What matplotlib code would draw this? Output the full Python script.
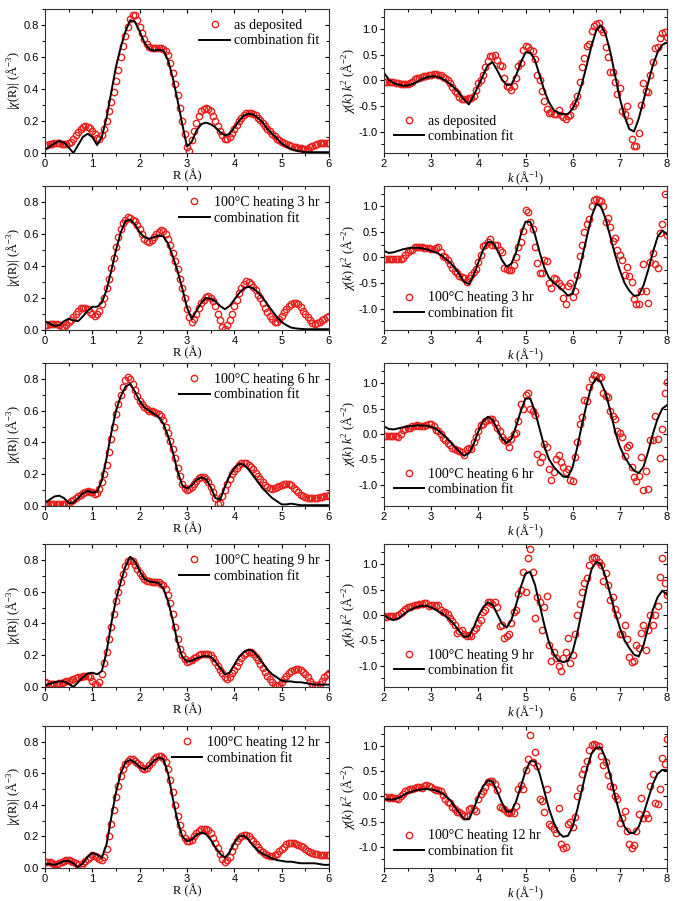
import numpy as np
import matplotlib
matplotlib.use("Agg")
import matplotlib.pyplot as plt
from matplotlib.ticker import MultipleLocator, FormatStrFormatter, NullFormatter

plt.rcParams['font.family'] = ['Liberation Serif', 'DejaVu Serif']
plt.rcParams['mathtext.fontset'] = 'custom'
plt.rcParams['mathtext.rm'] = 'Liberation Serif'
plt.rcParams['mathtext.it'] = 'Liberation Serif:italic'

# ---------------- data ----------------
R_dat_grid = np.round(np.arange(0, 6.001, 0.05), 2)
R_fit_grid = np.round(np.arange(0, 6.001, 0.1), 2)
k_fit_grid = np.round(np.arange(2, 8.001, 0.1), 2)
k_dat_grid = np.round(np.arange(2, 8.001, 0.05), 2)

labels = ["as deposited", "100°C heating 3 hr", "100°C heating 6 hr",
          "100°C heating 9 hr", "100°C heating 12 hr"]
fit_label = "combination fit"

R_data_0 = [0.05,0.052,0.055,0.058,0.06,0.062,0.06,0.058,0.055,0.055,0.06,0.07,0.09,0.11,0.13,0.15,0.16,0.168,0.165,0.155,
            0.14,0.12,0.095,0.088,0.11,0.15,0.2,0.26,0.32,0.38,0.45,0.52,0.6,0.67,0.73,0.79,0.84,0.865,0.86,0.83,
            0.79,0.75,0.71,0.68,0.665,0.658,0.655,0.655,0.655,0.655,0.65,0.635,0.61,0.56,0.5,0.43,0.36,0.28,0.2,0.12,
            0.04,0.015,0.08,0.14,0.19,0.23,0.26,0.275,0.28,0.275,0.26,0.23,0.2,0.17,0.14,0.11,0.09,0.085,0.1,0.125,
            0.15,0.175,0.2,0.22,0.24,0.248,0.25,0.25,0.245,0.235,0.22,0.205,0.19,0.17,0.15,0.135,0.12,0.105,0.09,0.08,
            0.07,0.062,0.055,0.05,0.045,0.04,0.035,0.032,0.03,0.027,0.025,0.028,0.035,0.042,0.05,0.055,0.06,0.062,0.062,0.06,
            0.06]
R_fit_0 = [0.02,0.04,0.06,0.075,0.065,0.035,0.0,0.05,0.1,0.12,0.1,0.05,0.1,0.22,0.38,0.54,0.66,0.76,0.83,0.82,
           0.76,0.69,0.65,0.64,0.645,0.64,0.58,0.47,0.33,0.18,0.04,0.07,0.14,0.18,0.19,0.18,0.16,0.13,0.11,0.12,
           0.16,0.2,0.235,0.245,0.24,0.22,0.19,0.15,0.12,0.09,0.06,0.04,0.025,0.015,0.01,0.005,0.005,0.005,0.005,0.005,0.005]

R_data_1 = [0.03,0.03,0.035,0.04,0.04,0.035,0.03,0.02,0.02,0.03,0.05,0.065,0.08,0.1,0.12,0.135,0.14,0.14,0.13,0.115,
            0.1,0.09,0.1,0.12,0.16,0.2,0.26,0.32,0.39,0.45,0.52,0.58,0.63,0.67,0.69,0.705,0.7,0.69,0.68,0.655,
            0.63,0.6,0.57,0.555,0.55,0.56,0.58,0.6,0.615,0.625,0.62,0.6,0.57,0.53,0.48,0.43,0.38,0.32,0.26,0.2,
            0.13,0.08,0.05,0.07,0.1,0.14,0.17,0.19,0.205,0.21,0.2,0.18,0.15,0.1,0.06,0.02,0.005,0.03,0.06,0.1,
            0.15,0.19,0.23,0.265,0.29,0.305,0.3,0.29,0.27,0.25,0.22,0.2,0.17,0.14,0.11,0.09,0.07,0.05,0.05,0.07,
            0.09,0.11,0.13,0.15,0.165,0.17,0.17,0.16,0.145,0.12,0.1,0.08,0.06,0.045,0.04,0.042,0.05,0.06,0.07,0.08,
            0.09]
R_fit_1 = [0.055,0.04,0.025,0.03,0.055,0.07,0.06,0.055,0.085,0.12,0.145,0.145,0.17,0.25,0.37,0.5,0.61,0.68,0.69,0.66,
           0.61,0.58,0.57,0.58,0.59,0.585,0.54,0.46,0.37,0.26,0.14,0.07,0.12,0.17,0.2,0.195,0.18,0.15,0.13,0.15,
           0.19,0.23,0.26,0.27,0.26,0.235,0.2,0.16,0.12,0.08,0.05,0.03,0.015,0.01,0.007,0.005,0.005,0.005,0.005,0.005,0.005]

R_data_2 = [0.015,0.012,0.01,0.01,0.01,0.01,0.01,0.01,0.01,0.015,0.02,0.03,0.04,0.05,0.06,0.07,0.08,0.09,0.092,0.09,
            0.085,0.075,0.08,0.11,0.15,0.2,0.26,0.34,0.42,0.5,0.58,0.64,0.7,0.75,0.79,0.81,0.8,0.77,0.73,0.69,
            0.66,0.64,0.62,0.61,0.6,0.595,0.59,0.585,0.58,0.565,0.54,0.5,0.46,0.41,0.36,0.3,0.24,0.19,0.14,0.115,
            0.1,0.105,0.12,0.14,0.16,0.175,0.18,0.18,0.17,0.15,0.12,0.085,0.05,0.015,0.02,0.06,0.1,0.14,0.17,0.2,
            0.22,0.24,0.26,0.27,0.272,0.27,0.26,0.245,0.23,0.21,0.19,0.17,0.15,0.135,0.12,0.112,0.11,0.113,0.12,0.125,
            0.13,0.137,0.14,0.138,0.13,0.115,0.1,0.085,0.07,0.06,0.055,0.052,0.05,0.05,0.05,0.052,0.055,0.057,0.06,0.065,
            0.07]
R_fit_2 = [0.02,0.04,0.06,0.065,0.05,0.02,0.02,0.05,0.08,0.095,0.085,0.09,0.16,0.3,0.46,0.6,0.69,0.75,0.77,0.72,
           0.66,0.62,0.6,0.58,0.56,0.52,0.44,0.34,0.22,0.13,0.11,0.13,0.165,0.18,0.17,0.12,0.05,0.04,0.12,0.19,
           0.24,0.265,0.26,0.23,0.19,0.15,0.11,0.08,0.05,0.03,0.01,0.01,0.015,0.01,0.005,0.005,0.005,0.005,0.005,0.005,0.005]

R_data_3 = [0.03,0.025,0.02,0.02,0.02,0.022,0.025,0.028,0.03,0.035,0.04,0.045,0.05,0.055,0.06,0.065,0.07,0.072,0.07,0.06,
            0.04,0.02,0.01,0.03,0.08,0.15,0.22,0.3,0.38,0.46,0.54,0.6,0.66,0.71,0.76,0.79,0.8,0.79,0.77,0.745,
            0.72,0.7,0.68,0.67,0.665,0.66,0.66,0.66,0.66,0.65,0.64,0.615,0.58,0.53,0.46,0.38,0.3,0.24,0.2,0.175,
            0.16,0.162,0.17,0.18,0.19,0.2,0.205,0.208,0.21,0.205,0.2,0.18,0.16,0.135,0.11,0.085,0.065,0.05,0.06,0.085,
            0.11,0.135,0.16,0.18,0.2,0.215,0.22,0.218,0.21,0.19,0.17,0.145,0.12,0.095,0.07,0.05,0.03,0.015,0.005,0.015,
            0.03,0.05,0.07,0.085,0.1,0.11,0.115,0.115,0.11,0.095,0.08,0.06,0.04,0.02,0.01,0.01,0.02,0.04,0.06,0.075,
            0.09]
R_fit_3 = [0.01,0.02,0.03,0.035,0.035,0.02,0.0,0.03,0.06,0.085,0.09,0.08,0.1,0.22,0.4,0.55,0.66,0.76,0.82,0.79,
           0.73,0.68,0.665,0.66,0.655,0.62,0.54,0.42,0.28,0.19,0.16,0.165,0.18,0.19,0.195,0.19,0.16,0.12,0.08,0.09,
           0.14,0.19,0.22,0.235,0.225,0.19,0.15,0.11,0.08,0.06,0.04,0.035,0.035,0.03,0.03,0.025,0.02,0.015,0.015,0.015,0.015]

R_data_4 = [0.04,0.038,0.035,0.03,0.025,0.025,0.03,0.038,0.045,0.05,0.05,0.047,0.04,0.03,0.02,0.012,0.03,0.045,0.06,0.072,
            0.08,0.078,0.07,0.058,0.048,0.07,0.12,0.2,0.28,0.37,0.45,0.52,0.58,0.63,0.66,0.68,0.69,0.688,0.68,0.665,
            0.65,0.635,0.63,0.635,0.65,0.67,0.69,0.705,0.71,0.71,0.7,0.675,0.63,0.56,0.48,0.4,0.33,0.27,0.22,0.19,
            0.17,0.172,0.18,0.2,0.22,0.235,0.245,0.25,0.25,0.24,0.22,0.19,0.16,0.125,0.09,0.06,0.04,0.05,0.07,0.105,
            0.14,0.17,0.19,0.205,0.21,0.208,0.2,0.185,0.17,0.15,0.13,0.115,0.1,0.09,0.08,0.076,0.075,0.08,0.09,0.105,
            0.12,0.135,0.15,0.157,0.16,0.16,0.155,0.148,0.14,0.13,0.12,0.11,0.1,0.095,0.09,0.087,0.085,0.082,0.08,0.08,
            0.08]
R_fit_4 = [0.025,0.025,0.02,0.03,0.045,0.045,0.03,0.005,0.03,0.07,0.095,0.085,0.065,0.15,0.32,0.48,0.6,0.67,0.685,0.67,
           0.64,0.625,0.645,0.68,0.7,0.69,0.6,0.44,0.3,0.2,0.17,0.18,0.21,0.225,0.215,0.18,0.13,0.09,0.065,0.1,
           0.16,0.2,0.205,0.18,0.14,0.11,0.09,0.075,0.06,0.05,0.045,0.04,0.04,0.035,0.03,0.03,0.03,0.03,0.025,0.02,0.02]

k_fit_0 = [0.15,0.02,-0.05,-0.08,-0.1,-0.1,-0.07,-0.03,0.02,0.06,0.08,0.08,0.05,0.0,-0.07,-0.15,-0.25,-0.38,-0.47,-0.3,
           -0.1,0.1,0.3,0.36,0.2,0.02,-0.09,-0.08,0.1,0.35,0.55,0.55,0.4,0.1,-0.2,-0.43,-0.58,-0.64,-0.66,-0.66,
           -0.55,-0.35,-0.05,0.3,0.68,0.98,1.08,0.9,0.55,0.1,-0.35,-0.7,-0.95,-1.0,-0.75,-0.4,-0.05,0.3,0.55,0.7,0.74]
k_dat_0 = [-0.02,-0.02,-0.02,-0.03,-0.03,-0.04,-0.05,-0.06,-0.07,-0.07,-0.06,-0.04,-0.02,0.02,0.04,0.04,0.06,0.08,0.09,0.1,
           0.1,0.12,0.12,0.11,0.1,0.07,0.04,0.0,-0.05,-0.12,-0.2,-0.25,-0.33,-0.37,-0.36,-0.37,-0.35,-0.35,-0.3,-0.18,
           -0.05,0.0,0.1,0.27,0.38,0.48,0.48,0.49,0.4,0.3,0.28,0.05,-0.1,-0.13,-0.18,-0.1,0.05,0.28,0.35,0.6,
           0.68,0.65,0.6,0.58,0.42,0.1,0.0,-0.2,-0.4,-0.55,-0.64,-0.62,-0.65,-0.66,-0.58,-0.68,-0.72,-0.76,-0.7,-0.68,
           -0.5,-0.45,-0.3,-0.02,0.27,0.45,0.68,0.72,0.97,1.07,1.1,1.12,1.0,0.95,0.65,0.46,0.16,0.17,-0.03,-0.27,
           -0.15,-0.6,-0.65,-0.5,-0.8,-1.15,-1.28,-1.28,-1.02,-0.48,-0.05,-0.2,-0.23,0.1,0.37,0.63,0.65,0.84,0.93,0.95,0.85]

k_fit_1 = [0.13,0.09,0.1,0.13,0.16,0.18,0.19,0.19,0.18,0.16,0.13,0.1,0.05,-0.02,-0.1,-0.2,-0.33,-0.48,-0.52,-0.35,
           -0.1,0.15,0.3,0.3,0.15,-0.05,-0.18,-0.12,0.1,0.45,0.7,0.7,0.45,0.1,-0.2,-0.4,-0.5,-0.57,-0.65,-0.75,
           -0.7,-0.4,0.0,0.4,0.8,1.05,1.0,0.75,0.4,0.05,-0.25,-0.5,-0.65,-0.75,-0.74,-0.55,-0.25,0.1,0.4,0.53,0.45]
k_dat_1 = [-0.02,-0.03,-0.03,-0.03,-0.03,-0.03,-0.03,-0.02,-0.01,0.05,0.1,0.14,0.15,0.2,0.2,0.21,0.2,0.19,0.19,0.18,
           0.17,0.17,0.18,0.2,0.1,0.03,0.0,-0.05,-0.12,-0.2,-0.27,-0.3,-0.36,-0.38,-0.4,-0.48,-0.4,-0.35,-0.28,-0.22,
           -0.08,0.05,0.22,0.25,0.3,0.37,0.25,0.25,0.24,0.15,0.1,-0.2,-0.22,-0.24,-0.24,-0.15,0.0,0.2,0.3,0.52,
           0.93,0.9,0.7,0.55,0.2,-0.1,-0.3,-0.3,-0.05,-0.07,-0.5,-0.6,-0.4,-0.42,-0.5,-0.55,-0.8,-0.92,-0.55,-0.5,
           -0.78,-0.65,-0.35,0.02,0.25,0.5,0.65,0.75,1.0,1.12,1.15,1.12,1.1,1.0,0.7,0.78,0.6,0.32,0.38,0.15,
           0.05,-0.05,-0.35,-0.18,-0.37,-0.48,-0.82,-0.92,-0.92,-0.65,-0.12,-0.65,-0.9,-0.08,0.08,-0.12,-0.2,0.48,0.65,1.25,0.45]

k_fit_2 = [0.15,0.1,0.09,0.11,0.13,0.15,0.16,0.17,0.17,0.16,0.14,0.1,0.03,-0.05,-0.15,-0.25,-0.35,-0.43,-0.38,-0.2,
           0.05,0.25,0.34,0.28,0.1,-0.08,-0.18,-0.1,0.15,0.45,0.7,0.7,0.45,0.1,-0.25,-0.5,-0.65,-0.75,-0.84,-0.85,
           -0.65,-0.25,0.2,0.6,0.95,1.1,1.02,0.8,0.45,0.05,-0.25,-0.45,-0.6,-0.72,-0.77,-0.65,-0.35,0.0,0.3,0.5,0.57]
k_dat_2 = [-0.03,-0.03,-0.03,-0.03,-0.03,-0.03,-0.05,0.0,0.08,0.1,0.12,0.12,0.15,0.16,0.18,0.15,0.15,0.16,0.18,0.2,
           0.2,0.15,0.08,0.05,0.0,-0.08,-0.12,-0.18,-0.22,-0.28,-0.3,-0.32,-0.34,-0.35,-0.42,-0.3,-0.28,-0.3,-0.15,-0.05,
           0.05,0.18,0.2,0.25,0.28,0.3,0.3,0.22,0.12,0.05,-0.05,-0.12,-0.15,-0.25,-0.1,0.0,0.02,0.25,0.6,0.5,
           0.77,0.8,0.5,0.45,0.38,-0.4,-0.55,-0.45,-0.2,-0.25,-0.7,-0.9,-0.75,-0.5,-0.42,-0.55,-0.65,-0.75,-0.7,-0.9,
           -0.92,-0.45,-0.15,0.2,0.33,0.67,0.66,0.92,1.08,1.17,1.15,1.1,1.12,0.8,0.75,0.72,0.45,0.35,0.3,0.05,
           0.02,-0.05,-0.43,-0.25,-0.22,-0.65,-0.85,-0.92,-0.82,-0.45,-1.1,-0.72,-1.08,-0.12,-0.12,0.35,-0.1,-0.48,0.1,0.8,1.03]

k_fit_3 = [0.0,-0.07,-0.1,-0.07,0.0,0.07,0.12,0.16,0.18,0.18,0.15,0.1,0.05,-0.02,-0.1,-0.2,-0.33,-0.43,-0.42,-0.25,
           -0.02,0.15,0.25,0.2,0.02,-0.17,-0.25,-0.1,0.2,0.55,0.82,0.85,0.6,0.2,-0.2,-0.55,-0.77,-0.9,-0.93,-0.9,
           -0.72,-0.35,0.1,0.55,0.9,1.05,1.0,0.75,0.4,0.05,-0.25,-0.5,-0.65,-0.78,-0.82,-0.6,-0.25,0.1,0.35,0.48,0.4]
k_dat_3 = [-0.02,-0.03,-0.02,-0.02,-0.02,-0.01,0.0,0.03,0.08,0.12,0.15,0.16,0.18,0.2,0.2,0.22,0.22,0.23,0.23,0.18,
           0.2,0.2,0.18,0.2,0.1,0.05,0.05,0.02,-0.05,-0.12,-0.2,-0.35,-0.32,-0.3,-0.38,-0.42,-0.4,-0.42,-0.3,-0.25,
           -0.15,-0.1,0.05,0.1,0.25,0.25,0.22,0.25,0.15,-0.22,-0.2,-0.45,-0.42,-0.38,-0.15,0.05,0.1,0.42,0.5,0.85,
           0.45,1.13,1.3,0.85,-0.05,0.35,0.25,-0.3,0.15,0.37,-0.6,-0.9,-0.72,-0.85,-1.0,-1.1,-0.85,-0.72,-0.45,-0.95,
           -0.78,-0.38,0.0,0.22,0.45,0.63,0.72,0.98,1.13,1.15,1.12,1.05,0.98,0.68,0.82,0.6,0.3,0.36,0.12,0.0,
           -0.37,-0.37,-0.2,-0.48,-0.82,-0.92,-0.9,-0.6,-0.65,-0.35,-0.2,-0.7,-0.3,0.0,-0.2,0.0,0.17,0.75,1.13,0.63,0.4]

k_fit_4 = [-0.05,-0.06,-0.06,-0.03,0.02,0.07,0.1,0.13,0.14,0.15,0.14,0.12,0.08,0.02,-0.07,-0.2,-0.33,-0.45,-0.45,-0.25,
           0.0,0.2,0.32,0.3,0.1,-0.12,-0.3,-0.3,-0.1,0.2,0.5,0.7,0.7,0.45,0.1,-0.25,-0.52,-0.72,-0.8,-0.78,
           -0.6,-0.25,0.15,0.55,0.85,0.97,0.97,0.75,0.4,0.0,-0.35,-0.6,-0.72,-0.73,-0.6,-0.35,-0.05,0.25,0.45,0.53,0.52]
k_dat_4 = [-0.01,-0.01,-0.02,-0.01,-0.02,-0.02,-0.05,0.0,0.05,0.1,0.12,0.14,0.15,0.16,0.18,0.18,0.17,0.2,0.22,0.2,
           0.18,0.15,0.12,0.12,0.1,0.02,-0.05,-0.1,-0.12,-0.2,-0.25,-0.3,-0.3,-0.35,-0.38,-0.38,-0.25,-0.22,-0.25,-0.28,
           -0.05,0.05,0.1,0.18,0.28,0.3,0.3,0.25,0.12,-0.2,-0.22,-0.25,-0.3,-0.33,-0.3,-0.33,-0.18,0.15,0.22,0.15,
           0.52,0.74,1.23,0.68,0.88,0.6,-0.05,-0.08,-0.3,0.15,-0.55,-0.58,-0.65,-0.72,-0.23,-0.95,-1.02,-1.0,-0.55,-0.5,
           -0.6,-0.4,0.0,0.17,0.45,0.55,0.7,0.92,1.02,1.05,1.03,1.0,0.8,0.62,0.68,0.43,0.2,0.18,0.0,-0.05,
           -0.52,-0.43,-0.28,-0.68,-0.95,-1.03,-0.97,-0.68,-0.35,-0.03,-0.42,-0.35,-0.42,0.2,0.45,-0.12,-0.15,0.15,0.77,0.65,1.15]

R_data = [R_data_0, R_data_1, R_data_2, R_data_3, R_data_4]
R_fit = [R_fit_0, R_fit_1, R_fit_2, R_fit_3, R_fit_4]
k_data = [k_dat_0, k_dat_1, k_dat_2, k_dat_3, k_dat_4]
k_fit = [k_fit_0, k_fit_1, k_fit_2, k_fit_3, k_fit_4]

for name, arrs, grid in [("R_data", R_data, R_dat_grid), ("R_fit", R_fit, R_fit_grid),
                         ("k_data", k_data, k_dat_grid), ("k_fit", k_fit, k_fit_grid)]:
    for j, a in enumerate(arrs):
        if len(a) != len(grid):
            raise ValueError(f"{name}[{j}] has {len(a)} values, expected {len(grid)}")

# ---------------- layout ----------------
W, H = 676, 901
fig = plt.figure(figsize=(W / 100, H / 100), dpi=100)
rows_px = [(9, 153), (186, 330), (363, 506), (544, 687), (726, 868)]
left_x = (45, 329)
right_x = (384, 667)

RED = '#e8211d'


def style(ax, xmaj, xmin, ymaj, ymin):
    ax.xaxis.set_major_locator(MultipleLocator(xmaj))
    ax.xaxis.set_minor_locator(MultipleLocator(xmin))
    ax.yaxis.set_major_locator(MultipleLocator(ymaj))
    ax.yaxis.set_minor_locator(MultipleLocator(ymin))
    ax.tick_params(which='both', direction='out', labelsize=8, pad=1.5)
    ax.tick_params(which='major', length=3, width=0.8)
    ax.tick_params(which='minor', length=2, width=0.7)
    for lab in ax.get_xticklabels() + ax.get_yticklabels():
        lab.set_fontfamily('Liberation Sans')
    for s in ax.spines.values():
        s.set_linewidth(0.8)
        s.set_color('#333333')
    # mirrored ticks pointing inwards on top and right
    top = ax.secondary_xaxis('top')
    top.xaxis.set_major_locator(MultipleLocator(xmaj))
    top.xaxis.set_minor_locator(MultipleLocator(xmin))
    top.xaxis.set_major_formatter(NullFormatter())
    top.tick_params(which='both', direction='in')
    top.tick_params(which='major', length=3, width=0.8)
    top.tick_params(which='minor', length=2, width=0.7)
    top.spines['top'].set_visible(False)
    right = ax.secondary_yaxis('right')
    right.yaxis.set_major_locator(MultipleLocator(ymaj))
    right.yaxis.set_minor_locator(MultipleLocator(ymin))
    right.yaxis.set_major_formatter(NullFormatter())
    right.tick_params(which='both', direction='in')
    right.tick_params(which='major', length=3, width=0.8)
    right.tick_params(which='minor', length=2, width=0.7)
    right.spines['right'].set_visible(False)


leg_kw = dict(frameon=False, fontsize=10, numpoints=1, handlelength=2.2,
              handletextpad=0.3, labelspacing=0.2, borderaxespad=0.3)

for i, (top, bot) in enumerate(rows_px):
    y0 = 1 - bot / H
    h = (bot - top) / H
    # left: R space
    axL = fig.add_axes([left_x[0] / W, y0, (left_x[1] - left_x[0]) / W, h])
    axL.plot(R_dat_grid, R_data[i], 'o', ms=4.6, mfc='none', mec=RED, mew=1.0, label=labels[i])
    axL.plot(R_fit_grid, R_fit[i], '-', color='black', lw=1.4, label=fit_label)
    axL.set_xlim(0, 6)
    axL.set_ylim(0, 0.9)
    axL.set_xlabel('R (Å)', fontsize=9, labelpad=0)
    axL.set_ylabel(r'$|\chi(\mathrm{R})|\ (\mathrm{Å}^{-3})$', fontsize=9, labelpad=1)
    style(axL, 1, 0.5, 0.2, 0.1)
    axL.legend(loc='upper right', **leg_kw)

    # right: k space
    axR = fig.add_axes([right_x[0] / W, y0, (right_x[1] - right_x[0]) / W, h])
    axR.plot(k_dat_grid, k_data[i], 'o', ms=4.6, mfc='none', mec=RED, mew=1.0, label=labels[i])
    axR.plot(k_fit_grid, k_fit[i], '-', color='black', lw=1.4, label=fit_label)
    axR.set_xlim(2, 8)
    axR.set_ylim(-1.42, 1.4)
    axR.yaxis.set_major_formatter(FormatStrFormatter('%.1f'))
    axR.set_xlabel(r'$k$ (Å$^{-1}$)', fontsize=9, labelpad=0)
    axR.set_ylabel(r'$\chi(k)\ k^{2}\ (\mathrm{Å}^{-2})$', fontsize=9, labelpad=1)
    style(axR, 1, 0.5, 0.5, 0.25)
    axR.legend(loc='lower left', **leg_kw)

fig.savefig('out.png', dpi=100)
